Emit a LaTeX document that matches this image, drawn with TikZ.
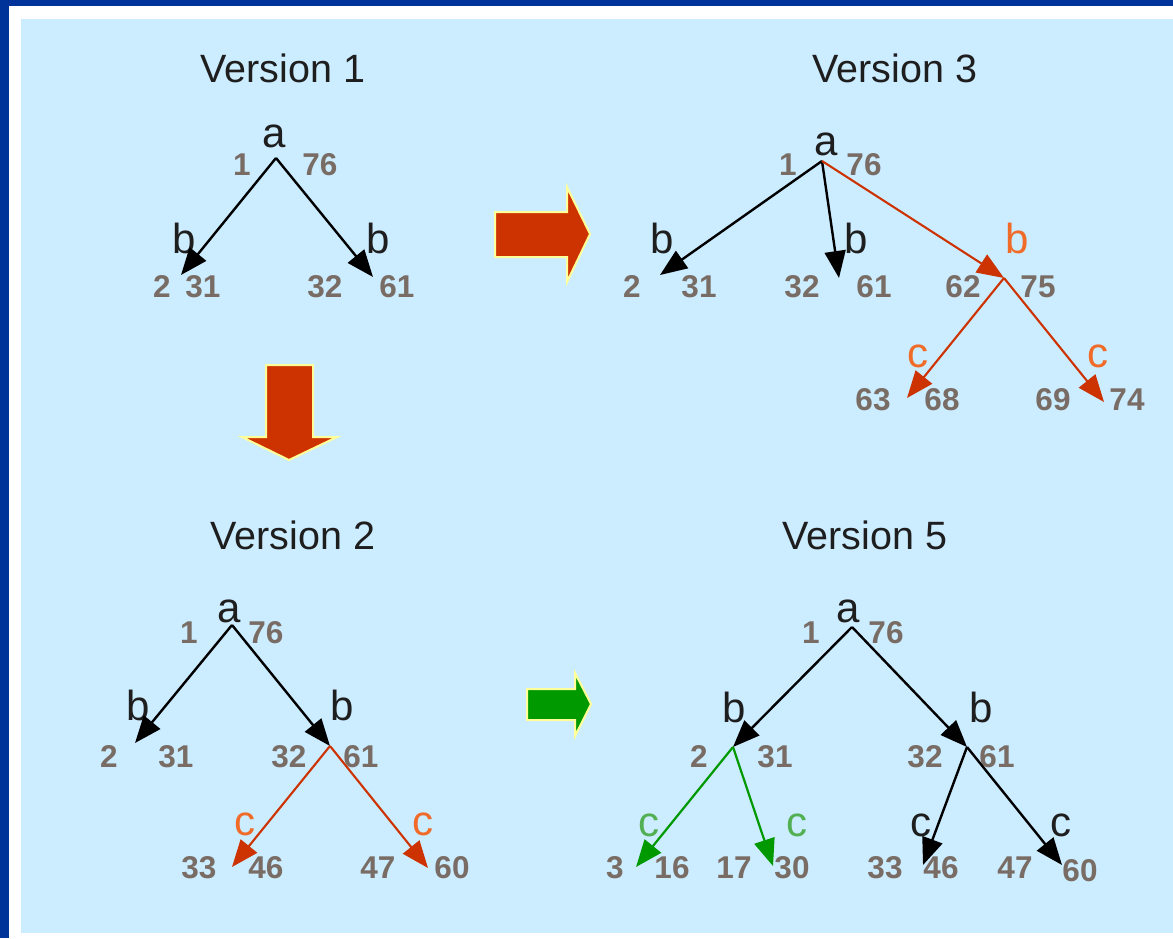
\documentclass[tikz,border=0pt]{standalone}
\usepackage{fontspec}
\setmainfont{Liberation Sans}
\usetikzlibrary{arrows.meta}
\definecolor{frameblue}{RGB}{0,51,153}
\definecolor{paneblue}{RGB}{204,236,255}
\definecolor{numgray}{RGB}{120,108,100}
\definecolor{newred}{RGB}{204,51,0}
\definecolor{neworange}{RGB}{240,106,40}
\definecolor{newgreen}{RGB}{0,153,0}
\definecolor{lightgreen}{RGB}{82,176,82}
\definecolor{glow}{RGB}{255,255,153}
\definecolor{ink}{RGB}{30,30,30}

\begin{document}
\begin{tikzpicture}[x=1pt,y=-1pt,
  title/.style={font=\fontsize{39.5}{44}\selectfont, text=ink, inner sep=0, anchor=base},
  sym/.style={font=\fontsize{42}{48}\selectfont, text=ink, inner sep=0, anchor=base},
  symnew/.style={sym, text=neworange},
  symgreen/.style={sym, text=lightgreen},
  num/.style={font=\bfseries\fontsize{31.5}{36}\selectfont, text=numgray, inner sep=0, anchor=base},
  edge/.style={line width=2.4pt, draw=black, -{Triangle[length=27pt,width=21pt]}},
  edgered/.style={edge, draw=newred, line width=2.1pt},
  edgegreen/.style={edge, draw=newgreen, line width=2.2pt},
  bigarrow/.style={draw=glow, line width=2pt, line join=miter},
]
\useasboundingbox (0,0) rectangle (1173,938);

% frame and panel
\fill[white] (0,0) rectangle (1173,938);
\fill[frameblue] (0,0) rectangle (1173,6);
\fill[frameblue] (0,0) rectangle (9,938);
\fill[paneblue] (21,19) rectangle (1173,933);

% titles
\node[title] (t1) at (283,82) {Version 1};
\node[title] (t3) at (895,82) {Version 3};
\node[title] (t2) at (293,549) {Version 2};
\node[title] (t5) at (865,549) {Version 5};

% block arrows between versions
\filldraw[bigarrow, fill=newred] (495,212) -- (567,212) -- (567,187) -- (590,234)
  -- (567,282) -- (567,257) -- (495,257) -- cycle;
\filldraw[bigarrow, fill=newred] (266,365) -- (313,365) -- (313,437) -- (337,437)
  -- (289,460) -- (242,437) -- (266,437) -- cycle;
\filldraw[bigarrow, fill=newgreen] (527,689) -- (575,689) -- (575,673) -- (591,704)
  -- (575,736) -- (575,720) -- (527,720) -- cycle;

% ---------- Version 1 ----------
\coordinate (v1a) at (276,158);
\coordinate (v1b1) at (181,275);
\coordinate (v1b2) at (373,277);
\node[sym] (v1la) at (274,147) {a};
\node[num] (v1n1) at (242,175) {1};
\node[num] (v1n76) at (320,175) {76};
\node[sym] (v1lb1) at (184,253) {b};
\node[sym] (v1lb2) at (378,253) {b};
\node[num] (v1n2) at (162,297) {2};
\node[num] (v1n31) at (203,297) {31};
\node[num] (v1n32) at (325,297) {32};
\node[num] (v1n61) at (397,297) {61};
\draw[edge] (v1a) -- (v1b1);
\draw[edge] (v1a) -- (v1b2);

% ---------- Version 3 ----------
\coordinate (v3a) at (822,161);
\coordinate (v3b1) at (660,275);
\coordinate (v3b2) at (839,278);
\coordinate (v3b3) at (1004,278);
\coordinate (v3c1) at (907,398);
\coordinate (v3c2) at (1104,402);
\node[sym] (v3la) at (826,155) {a};
\node[num] (v3n1) at (788,175) {1};
\node[num] (v3n76) at (864,175) {76};
\node[sym] (v3lb1) at (662,253) {b};
\node[sym] (v3lb2) at (856,253) {b};
\node[symnew] (v3lb3) at (1017,253) {b};
\node[num] (v3n2) at (632,297) {2};
\node[num] (v3n31) at (699,297) {31};
\node[num] (v3n32) at (802,297) {32};
\node[num] (v3n61) at (874,297) {61};
\node[num] (v3n62) at (963,297) {62};
\node[num] (v3n75) at (1038,297) {75};
\node[symnew] (v3lc1) at (918,367) {c};
\node[symnew] (v3lc2) at (1098,367) {c};
\node[num] (v3n63) at (873,410) {63};
\node[num] (v3n68) at (942,410) {68};
\node[num] (v3n69) at (1053,410) {69};
\node[num] (v3n74) at (1127,410) {74};
\draw[edge] (v3a) -- (v3b1);
\draw[edge] (v3a) -- (v3b2);
\draw[edgered] (v3a) -- (v3b3);
\draw[edgered] (v3b3) -- (v3c1);
\draw[edgered] (v3b3) -- (v3c2);

% ---------- Version 2 ----------
\coordinate (v2a) at (232,625);
\coordinate (v2b1) at (135,743);
\coordinate (v2b2) at (330,746);
\coordinate (v2c1) at (232,867);
\coordinate (v2c2) at (428,868);
\node[sym] (v2la) at (229,622) {a};
\node[num] (v2n1) at (189,643) {1};
\node[num] (v2n76) at (266,643) {76};
\node[sym] (v2lb1) at (138,720) {b};
\node[sym] (v2lb2) at (342,720) {b};
\node[num] (v2n2) at (109,767) {2};
\node[num] (v2n31) at (176,767) {31};
\node[num] (v2n32) at (289,767) {32};
\node[num] (v2n61) at (361,767) {61};
\node[symnew] (v2lc1) at (245,835) {c};
\node[symnew] (v2lc2) at (423,835) {c};
\node[num] (v2n33) at (199,878) {33};
\node[num] (v2n46) at (266,878) {46};
\node[num] (v2n47) at (378,878) {47};
\node[num] (v2n60) at (452,878) {60};
\draw[edge] (v2a) -- (v2b1);
\draw[edge] (v2a) -- (v2b2);
\draw[edgered] (v2b2) -- (v2c1);
\draw[edgered] (v2b2) -- (v2c2);

% ---------- Version 5 ----------
\coordinate (v5a) at (852,627);
\coordinate (v5b1) at (733,747);
\coordinate (v5b2) at (967,747);
\coordinate (v5c1) at (636,867);
\coordinate (v5c2) at (773,866);
\coordinate (v5c3) at (923,865);
\coordinate (v5c4) at (1062,865);
\node[sym] (v5la) at (848,622) {a};
\node[num] (v5n1) at (811,643) {1};
\node[num] (v5n76) at (886,643) {76};
\node[sym] (v5lb1) at (734,722) {b};
\node[sym] (v5lb2) at (981,722) {b};
\node[num] (v5n2) at (699,767) {2};
\node[num] (v5n31) at (775,767) {31};
\node[num] (v5n32) at (925,767) {32};
\node[num] (v5n61) at (997,767) {61};
\node[symgreen] (v5lc1) at (649,836) {c};
\node[symgreen] (v5lc2) at (797,836) {c};
\node[sym] (v5lc3) at (921,836) {c};
\node[sym] (v5lc4) at (1061,836) {c};
\node[num] (v5n3) at (615,878) {3};
\node[num] (v5n16) at (672,878) {16};
\node[num] (v5n17) at (734,878) {17};
\node[num] (v5n30) at (792,878) {30};
\node[num] (v5n33) at (885,878) {33};
\node[num] (v5n46) at (941,878) {46};
\node[num] (v5n47) at (1015,878) {47};
\node[num] (v5n60) at (1080,881) {60};
\draw[edge] (v5a) -- (v5b1);
\draw[edge] (v5a) -- (v5b2);
\draw[edgegreen] (v5b1) -- (v5c1);
\draw[edgegreen] (v5b1) -- (v5c2);
\draw[edge] (v5b2) -- (v5c3);
\draw[edge] (v5b2) -- (v5c4);
\end{tikzpicture}
\end{document}
